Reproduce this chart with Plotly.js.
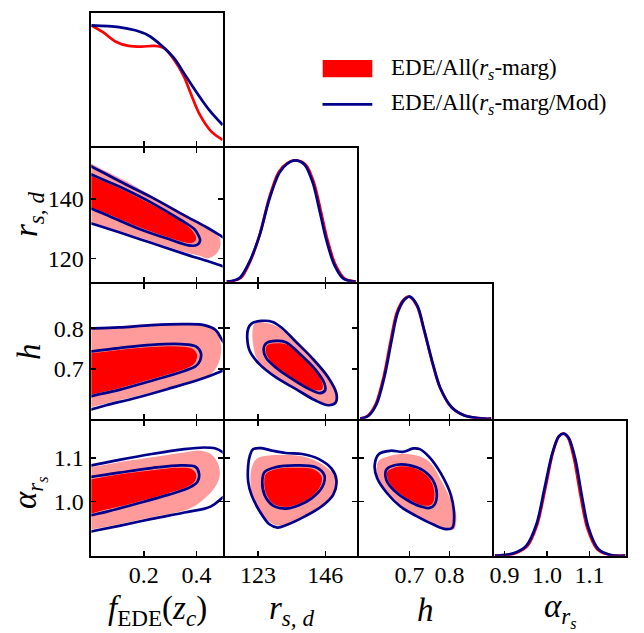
<!DOCTYPE html>
<html>
<head>
<meta charset="utf-8">
<script src="https://cdn.plot.ly/plotly-3.0.1.min.js"></script>
<style>
  html, body { margin: 0; padding: 0; background: #ffffff; }
  #chart { width: 644px; height: 633px; }
</style>
</head>
<body>
<div id="chart"></div>
<script>
// ---------------- data ----------------
// Parameters, in grid order
const paramNames = ['fEDE', 'rsd', 'h', 'alpha'];

// Tick values and labels per parameter
const tickVals = [[0.2, 0.4], [123, 146], [0.7, 0.8], [0.9, 1.0, 1.1]];
const tickText = [['0.2', '0.4'], ['123', '146'], ['0.7', '0.8'], ['0.9', '1.0', '1.1']];
const yTickVals = [null, [120, 140], [0.7, 0.8], [1.0, 1.1]];
const yTickText = [null, ['120', '140'], ['0.7', '0.8'], ['1.0', '1.1']];

// Axis ranges per parameter (as horizontal and as vertical axis)
const xRanges = [[0, 0.5], [111.85, 156.7], [0.574, 0.9057], [0.876, 1.1855]];
const yRanges = [null, [112.2, 157], [0.5781, 0.9074], [0.8754, 1.184]];

// 1D marginals: [value, normalised density]
const pdfFede_marg = [[0,1.0],[0.043,0.945],[0.093,0.864],[0.142,0.829],[0.191,0.823],[0.241,0.829],[0.278,0.809],[0.315,0.714],[0.352,0.578],[0.377,0.442],[0.414,0.253],[0.457,0.117],[0.5,0.049]];
const pdfFede_mod  = [[0,1.0],[0.105,0.986],[0.167,0.959],[0.216,0.918],[0.265,0.837],[0.315,0.728],[0.352,0.605],[0.401,0.442],[0.45,0.293],[0.5,0.172]];

const pdfRs_marg = [[112.3,0],[114,0.003],[117.1,0.03],[120.3,0.165],[123.6,0.39],[126.8,0.69],[130.1,0.905],[133.0,0.978],[135.9,1.0],[139.3,0.965],[142.1,0.817],[144.3,0.601],[146.6,0.358],[149.4,0.143],[152.7,0.022],[156.5,0]];
const pdfRs_mod  = [[112.3,0],[114,0.005],[116.9,0.035],[120.2,0.17],[123.6,0.386],[126.9,0.682],[130.3,0.898],[133.0,0.973],[135.6,1.0],[138.9,0.965],[141.7,0.817],[143.9,0.601],[146.2,0.358],[149.0,0.143],[152.3,0.022],[156.3,0]];

const pdfH_marg = [[0.576,0],[0.595,0.024],[0.615,0.12],[0.636,0.36],[0.652,0.63],[0.668,0.87],[0.685,0.975],[0.699,1.0],[0.718,0.925],[0.735,0.74],[0.756,0.47],[0.776,0.255],[0.805,0.093],[0.838,0.025],[0.887,0],[0.905,0]];
const pdfH_mod  = [[0.576,0],[0.597,0.024],[0.617,0.118],[0.638,0.359],[0.654,0.626],[0.670,0.867],[0.687,0.974],[0.701,1.0],[0.720,0.921],[0.736,0.733],[0.757,0.466],[0.777,0.251],[0.806,0.091],[0.839,0.024],[0.888,0],[0.905,0]];

const pdfAlpha_marg = [[0.877,0],[0.89,0.001],[0.924,0.018],[0.954,0.08],[0.977,0.255],[0.996,0.548],[1.014,0.843],[1.028,0.977],[1.039,1.0],[1.05,0.964],[1.064,0.789],[1.079,0.495],[1.095,0.227],[1.118,0.054],[1.148,0.005],[1.185,0]];
const pdfAlpha_mod  = [[0.877,0],[0.886,0.001],[0.921,0.019],[0.951,0.08],[0.975,0.255],[0.994,0.548],[1.013,0.843],[1.028,0.977],[1.040,1.0],[1.0515,0.964],[1.067,0.789],[1.082,0.495],[1.098,0.227],[1.121,0.054],[1.151,0.005],[1.185,0]];

// 2D credible contours (68% and 95%), closed polygons: [x, y]
// fEDE vs r_s,d
const fedeRs_marg95 = [[-0.1,156.3],[0,151.84],[0.056,149.31],[0.131,146.02],[0.230,141.08],[0.330,136.14],[0.417,131.75],[0.473,128.45],[0.491,126.26],[0.489,123.51],[0.473,121.32],[0.442,120.0],[0.417,120.77],[0.354,122.19],[0.230,125.71],[0.106,129.22],[0,132.08],[-0.1,134.8],[-0.2,145]];
const fedeRs_marg68 = [[-0.1,151.5],[0,147.67],[0.106,143.60],[0.230,138.11],[0.330,133.06],[0.379,129.88],[0.398,127.35],[0.396,125.93],[0.379,125.16],[0.292,127.13],[0.168,130.98],[0.056,135.15],[0,137.13],[-0.1,140.6],[-0.2,146]];
const fedeRs_mod95  = [[-0.1,155.6],[0,150.96],[0.106,146.02],[0.230,140.53],[0.354,134.49],[0.442,130.32],[0.4975,127.35],[0.55,124.5],[0.62,120],[0.55,115.9],[0.4975,117.47],[0.442,119.12],[0.354,121.53],[0.230,125.16],[0.106,128.78],[0,131.75],[-0.1,134.55],[-0.2,145]];
const fedeRs_mod68  = [[-0.1,152.1],[0,148.22],[0.106,144.15],[0.230,138.66],[0.342,132.84],[0.392,129.88],[0.410,127.35],[0.414,125.93],[0.404,124.61],[0.379,124.28],[0.292,126.59],[0.168,130.43],[0.056,134.71],[0,136.69],[-0.1,140.2],[-0.2,146]];

// fEDE vs h
const fedeH_marg95 = [[-0.1,0.800],[0,0.8009],[0.106,0.8049],[0.230,0.8097],[0.354,0.8129],[0.429,0.8097],[0.473,0.7953],[0.491,0.7672],[0.494,0.743],[0.485,0.7151],[0.46,0.690],[0.429,0.680],[0.354,0.6647],[0.230,0.6430],[0.106,0.6230],[0,0.6054],[-0.1,0.587],[-0.2,0.69]];
const fedeH_marg68 = [[-0.1,0.733],[0,0.7384],[0.106,0.7464],[0.230,0.7536],[0.330,0.7552],[0.386,0.7496],[0.402,0.7352],[0.399,0.7208],[0.386,0.7095],[0.342,0.6967],[0.230,0.6751],[0.106,0.6527],[0,0.6374],[-0.1,0.621],[-0.2,0.68]];
const fedeH_mod95  = [[-0.1,0.798],[0,0.7993],[0.106,0.8017],[0.230,0.8073],[0.354,0.8097],[0.429,0.8073],[0.473,0.7953],[0.4975,0.7712],[0.52,0.75],[0.535,0.725],[0.525,0.703],[0.4975,0.6951],[0.417,0.6751],[0.292,0.6511],[0.168,0.6286],[0.056,0.6110],[0,0.6006],[-0.1,0.582],[-0.2,0.69]];
const fedeH_mod68  = [[-0.1,0.738],[0,0.7432],[0.106,0.7512],[0.230,0.7592],[0.342,0.7608],[0.398,0.7552],[0.417,0.7392],[0.414,0.7208],[0.398,0.7071],[0.354,0.6951],[0.230,0.6711],[0.106,0.6487],[0,0.6334],[-0.1,0.617],[-0.2,0.68]];

// fEDE vs alpha_rs
const fedeA_marg95 = [[-0.1,1.068],[0,1.0789],[0.106,1.0902],[0.230,1.1014],[0.354,1.1127],[0.417,1.1164],[0.460,1.1067],[0.485,1.0827],[0.489,1.0601],[0.479,1.0414],[0.460,1.0241],[0.429,1.0058],[0.392,0.9891],[0.354,0.9791],[0.230,0.9635],[0.106,0.9475],[0,0.9348],[-0.1,0.921],[-0.2,1.0]];
const fedeA_marg68 = [[-0.1,1.041],[0,1.0511],[0.106,1.0616],[0.230,1.0714],[0.330,1.0774],[0.379,1.0752],[0.398,1.0639],[0.396,1.0489],[0.373,1.0361],[0.292,1.0188],[0.168,0.9978],[0.056,0.9813],[0,0.9723],[-0.1,0.959],[-0.2,1.0]];
const fedeA_mod95  = [[-0.1,1.073],[0,1.0827],[0.106,1.0954],[0.230,1.1089],[0.354,1.1202],[0.429,1.1239],[0.473,1.1217],[0.4975,1.1142],[0.525,1.095],[0.54,1.06],[0.53,1.025],[0.4975,1.008],[0.454,0.988],[0.354,0.9746],[0.230,0.9598],[0.106,0.9438],[0,0.9310],[-0.1,0.918],[-0.2,1.0]];
const fedeA_mod68  = [[-0.1,1.046],[0,1.0564],[0.106,1.0661],[0.230,1.0767],[0.342,1.0827],[0.398,1.0789],[0.410,1.0639],[0.404,1.0451],[0.373,1.0316],[0.292,1.0151],[0.168,0.9941],[0.056,0.9761],[0,0.9685],[-0.1,0.955],[-0.2,1.0]];

// r_s,d vs h
const rsH_marg95 = [[121.89,0.8113],[125.80,0.8129],[129.71,0.8033],[134.73,0.7712],[141.42,0.7272],[147.0,0.6807],[150.13,0.6430],[150.13,0.6190],[148.12,0.6110],[143.66,0.6214],[136.96,0.6471],[130.26,0.6751],[124.69,0.7047],[122.45,0.7272],[121.34,0.7592],[121.11,0.7913]];
const rsH_marg68 = [[126.36,0.7592],[129.71,0.7632],[133.05,0.7592],[137.52,0.7336],[142.54,0.6967],[145.0,0.6647],[145.0,0.6511],[143.66,0.6471],[139.75,0.6551],[134.17,0.6791],[129.15,0.7047],[126.36,0.7288],[125.58,0.7472]];
const rsH_mod95  = [[120.78,0.8113],[124.13,0.8177],[128.03,0.8153],[131.38,0.7993],[135.85,0.7672],[141.42,0.7272],[147.0,0.6791],[149.79,0.6390],[149.46,0.6166],[147.0,0.6110],[142.54,0.6230],[135.85,0.6511],[129.15,0.6791],[123.57,0.7111],[120.22,0.7432],[119.33,0.7752],[119.66,0.7993]];
const rsH_mod68  = [[125.80,0.7632],[129.15,0.7689],[132.50,0.7657],[136.96,0.7392],[142.54,0.6991],[145.67,0.6647],[145.89,0.6471],[144.21,0.6406],[140.31,0.6511],[134.73,0.6751],[129.15,0.7031],[125.80,0.7272],[124.91,0.7472]];

// r_s,d vs alpha_rs
const rsA_marg95 = [[122.45,1.0977],[125.80,1.1052],[132.50,1.1067],[138.08,1.1037],[143.66,1.0902],[148.12,1.0676],[150.13,1.0414],[148.68,1.0113],[144.77,0.9866],[139.19,0.9640],[132.50,0.9475],[129.15,0.9453],[125.80,0.9588],[123.01,0.9813],[121.11,1.0113],[120.44,1.0451],[120.78,1.0752]];
const rsA_marg68 = [[125.80,1.0639],[129.71,1.0752],[135.85,1.0774],[141.98,1.0737],[144.77,1.0564],[144.21,1.0339],[140.87,1.0091],[136.96,0.9948],[132.50,0.9873],[128.37,0.9941],[125.80,1.0173],[125.13,1.0451]];
const rsA_mod95  = [[121.34,1.1202],[124.13,1.1224],[128.03,1.1164],[132.50,1.1112],[138.08,1.1089],[143.66,1.0977],[148.12,1.0752],[149.79,1.0489],[148.68,1.0151],[144.77,0.9888],[139.19,0.9663],[132.50,0.9453],[129.71,0.9400],[126.92,0.9475],[123.57,0.9775],[120.78,1.0151],[119.66,1.0451],[119.66,1.0827],[120.22,1.1052]];
const rsA_mod68  = [[125.24,1.0676],[129.15,1.0789],[135.85,1.0827],[142.54,1.0789],[145.67,1.0601],[145.0,1.0339],[141.42,1.0076],[136.96,0.9911],[132.50,0.9836],[128.03,0.9911],[125.24,1.0151],[124.46,1.0451]];

// h vs alpha_rs
const hA_marg95 = [[0.6231,1.0939],[0.6518,1.1052],[0.6845,1.1089],[0.7255,1.1037],[0.7541,1.0864],[0.7787,1.0489],[0.8033,1.0038],[0.8172,0.9663],[0.8115,0.9363],[0.7951,0.9340],[0.7582,0.9475],[0.7173,0.9678],[0.6763,0.9911],[0.6436,1.0211],[0.6206,1.0526],[0.6174,1.0789]];
const hA_marg68 = [[0.6477,1.0714],[0.6722,1.0804],[0.7009,1.0789],[0.7320,1.0676],[0.7541,1.0466],[0.7623,1.0188],[0.7582,0.9963],[0.7484,0.9903],[0.7255,0.9926],[0.6927,1.0076],[0.6624,1.0286],[0.6460,1.0489],[0.6436,1.0661]];
const hA_mod95  = [[0.6231,1.1089],[0.6518,1.1164],[0.6845,1.1142],[0.7091,1.1217],[0.7255,1.1202],[0.7500,1.1014],[0.7787,1.0639],[0.8033,1.0151],[0.8115,0.9700],[0.8074,0.9400],[0.7910,0.9363],[0.7582,0.9475],[0.7173,0.9663],[0.6763,0.9888],[0.6436,1.0188],[0.6190,1.0526],[0.6124,1.0827]];
const hA_mod68  = [[0.6436,1.0752],[0.6681,1.0842],[0.7009,1.0827],[0.7337,1.0714],[0.7582,1.0489],[0.7681,1.0188],[0.7623,0.9926],[0.7500,0.9851],[0.7255,0.9888],[0.6927,1.0038],[0.6600,1.0264],[0.6419,1.0489],[0.6395,1.0676]];

const seriesNames = ['EDE/All(<i>r<sub>s</sub></i>-marg)', 'EDE/All(<i>r<sub>s</sub></i>-marg/Mod)'];
const axisLabels = [
  '<i>f</i><sub>EDE</sub>(<i>z<sub>c</sub></i>)',
  '<i>r<sub>s, d</sub></i>',
  '<i>h</i>',
  '<i>α<sub>r<sub>s</sub></sub></i>'
];

// ---------------- styling & layout ----------------
const W = 644, H = 633;
const COLS = [[90, 224], [224, 358], [358, 493], [493, 627]];
const ROWS = [[12, 147], [147, 283], [283, 420], [420, 557]];
const LW = 2.7;             // frame line width
const HALF = LW / 2;        // frames are centred on the panel edges
const PINK = '#ff9b9b', RED = '#ff0000', NAVY = '#00008b';
const FONT = 'Liberation Serif, Times New Roman, serif';

const layout = {
  width: W, height: H,
  margin: {l: 0, r: 0, t: 0, b: 0},
  paper_bgcolor: '#ffffff', plot_bgcolor: '#ffffff',
  showlegend: false,
  font: {family: FONT, color: '#000000'},
  shapes: [], annotations: []
};
const traces = [];

let nAx = 0;
function addPanel(row, col) {
  nAx += 1;
  const sfx = nAx === 1 ? '' : String(nAx);
  const diag = row === col;
  const xd = [(COLS[col][0] + HALF) / W, (COLS[col][1] - HALF) / W];
  const yd = [1 - (ROWS[row][1] - HALF) / H, 1 - (ROWS[row][0] + HALF) / H];
  const common = {
    showline: true, linecolor: '#000000', linewidth: LW,
    showgrid: false, zeroline: false, fixedrange: true,
    ticklen: 5, tickwidth: 1.3, tickcolor: '#000000',
    tickfont: {family: FONT, size: 24, color: '#000000'}
  };
  layout['xaxis' + sfx] = Object.assign({}, common, {
    domain: xd, range: xRanges[col], anchor: 'y' + sfx,
    ticks: 'inside', mirror: diag ? true : 'allticks',
    tickmode: 'array', tickvals: tickVals[col], ticktext: tickText[col],
    showticklabels: row === 3, ticklabelstandoff: -4
  });
  if (diag) {
    layout['yaxis' + sfx] = Object.assign({}, common, {
      domain: yd, range: [0, 1.1], anchor: 'x' + sfx,
      ticks: '', mirror: true, showticklabels: false
    });
  } else {
    layout['yaxis' + sfx] = Object.assign({}, common, {
      domain: yd, range: yRanges[row], anchor: 'x' + sfx,
      ticks: 'inside', mirror: 'allticks',
      tickmode: 'array', tickvals: yTickVals[row], ticktext: yTickText[row],
      showticklabels: col === 0
    });
  }
  return ['x' + sfx, 'y' + sfx];
}

function closedXY(pts) {
  const c = pts.concat([pts[0]]);
  return {x: c.map(p => p[0]), y: c.map(p => p[1])};
}
function fillArea(pts, color, ax) {
  const c = closedXY(pts);
  traces.push({type: 'scatter', mode: 'lines', x: c.x, y: c.y, xaxis: ax[0], yaxis: ax[1],
    fill: 'toself', fillcolor: color, line: {width: 0, shape: 'spline', smoothing: 1, color: color},
    hoverinfo: 'skip', showlegend: false});
}
function outline(pts, color, ax) {
  const c = closedXY(pts);
  traces.push({type: 'scatter', mode: 'lines', x: c.x, y: c.y, xaxis: ax[0], yaxis: ax[1],
    line: {width: LW, shape: 'spline', smoothing: 1, color: color},
    hoverinfo: 'skip', showlegend: false});
}
function curve(pts, color, ax) {
  traces.push({type: 'scatter', mode: 'lines', x: pts.map(p => p[0]), y: pts.map(p => p[1]),
    xaxis: ax[0], yaxis: ax[1], line: {width: LW, shape: 'spline', smoothing: 0.9, color: color},
    hoverinfo: 'skip', showlegend: false});
}

// diagonal: 1D marginals
const marginals = [
  [pdfFede_marg, pdfFede_mod], [pdfRs_marg, pdfRs_mod],
  [pdfH_marg, pdfH_mod], [pdfAlpha_marg, pdfAlpha_mod]
];
// off-diagonal: [row, col, marg95, marg68, mod95, mod68]
const pairs = [
  [1, 0, fedeRs_marg95, fedeRs_marg68, fedeRs_mod95, fedeRs_mod68],
  [2, 0, fedeH_marg95, fedeH_marg68, fedeH_mod95, fedeH_mod68],
  [2, 1, rsH_marg95, rsH_marg68, rsH_mod95, rsH_mod68],
  [3, 0, fedeA_marg95, fedeA_marg68, fedeA_mod95, fedeA_mod68],
  [3, 1, rsA_marg95, rsA_marg68, rsA_mod95, rsA_mod68],
  [3, 2, hA_marg95, hA_marg68, hA_mod95, hA_mod68]
];

for (let i = 0; i < 4; i++) {
  const ax = addPanel(i, i);
  curve(marginals[i][0], RED, ax);
  curve(marginals[i][1], NAVY, ax);
}
pairs.forEach(p => {
  const ax = addPanel(p[0], p[1]);
  fillArea(p[2], PINK, ax);
  fillArea(p[3], RED, ax);
  outline(p[4], NAVY, ax);
  outline(p[5], NAVY, ax);
});

// axis labels
const xLabelY = 1 - 610 / H;
for (let c = 0; c < 4; c++) {
  layout.annotations.push({xref: 'paper', yref: 'paper', x: (COLS[c][0] + COLS[c][1]) / 2 / W, y: xLabelY,
    xanchor: 'center', yanchor: 'middle', showarrow: false, text: axisLabels[c],
    font: {family: FONT, size: 33, color: '#000000'}});
}
const yLabelCentres = [null, 215, 352, 493];
for (let r = 1; r < 4; r++) {
  layout.annotations.push({xref: 'paper', yref: 'paper', x: 29 / W, y: 1 - yLabelCentres[r] / H,
    xanchor: 'center', yanchor: 'middle', textangle: -90, showarrow: false, text: axisLabels[r],
    font: {family: FONT, size: 33, color: '#000000'}});
}

// legend key
layout.shapes.push({type: 'rect', xref: 'paper', yref: 'paper',
  x0: 322.7 / W, x1: 372.3 / W, y0: 1 - 77.3 / H, y1: 1 - 60 / H,
  fillcolor: RED, line: {width: 0}});
layout.shapes.push({type: 'line', xref: 'paper', yref: 'paper',
  x0: 322.5 / W, x1: 372.3 / W, y0: 1 - 104.3 / H, y1: 1 - 104.3 / H,
  line: {color: NAVY, width: LW}});
[69, 104].forEach((yc, i) => {
  layout.annotations.push({xref: 'paper', yref: 'paper', x: 389 / W, y: 1 - yc / H,
    xanchor: 'left', yanchor: 'middle', showarrow: false, text: seriesNames[i],
    font: {family: FONT, size: 23, color: '#000000'}});
});

Plotly.newPlot('chart', traces, layout, {displayModeBar: false, staticPlot: true});
</script>
</body>
</html>
